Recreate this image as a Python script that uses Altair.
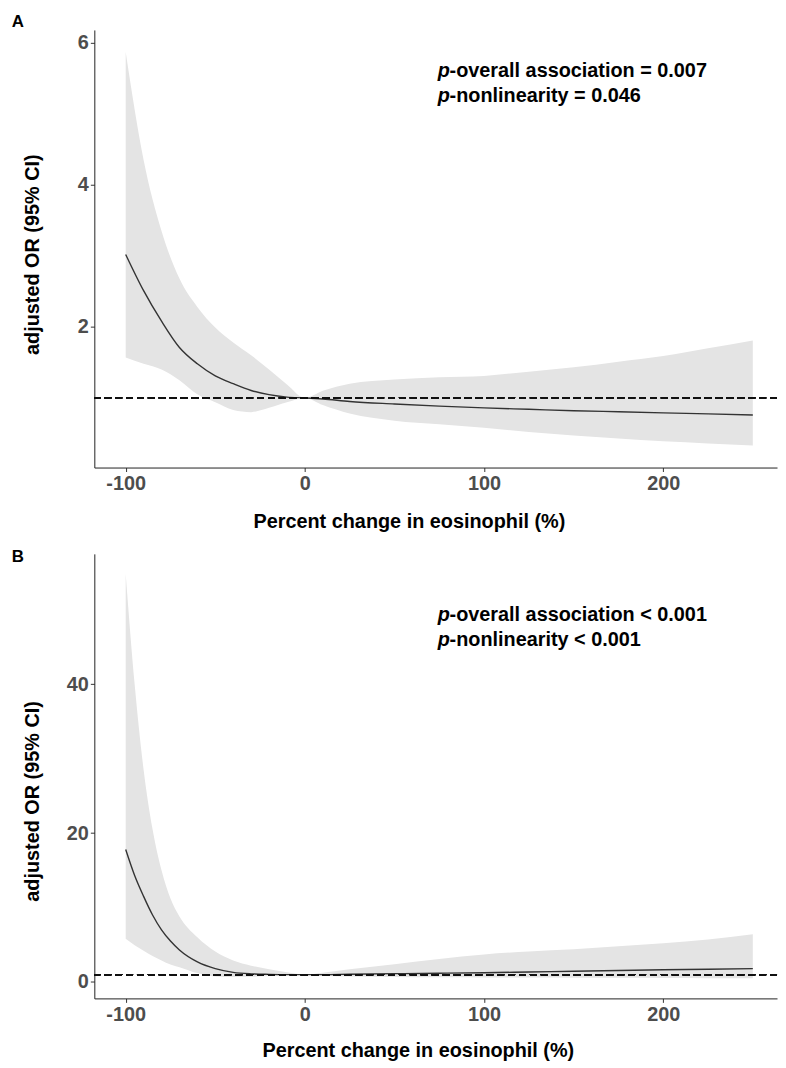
import altair as alt
import pandas as pd

# ---------------- Panel A data ----------------
x_a = [-100, -90, -80, -70, -60, -50, -40, -30, -20, -10, 0, 10, 25, 50, 75, 100, 125, 150, 175, 200, 225, 250]
or_a = [3.02, 2.51, 2.08, 1.71, 1.48, 1.31, 1.20, 1.105, 1.046, 1.012, 1.0, 0.985, 0.95, 0.915, 0.885, 0.86, 0.84, 0.82, 0.805, 0.79, 0.775, 0.76]
hi_a = [5.87, 4.35, 3.35, 2.68, 2.28, 1.99, 1.78, 1.60, 1.40, 1.19, 1.0, 1.10, 1.20, 1.26, 1.29, 1.31, 1.37, 1.43, 1.51, 1.59, 1.70, 1.81]
lo_a = [1.57, 1.48, 1.40, 1.25, 1.05, 0.94, 0.83, 0.80, 0.86, 0.94, 1.0, 0.90, 0.78, 0.68, 0.63, 0.58, 0.52, 0.47, 0.43, 0.39, 0.36, 0.33]

# ---------------- Panel B data ----------------
x_b = [-100, -95, -90, -85, -80, -75, -70, -60, -50, -40, -30, -20, -10, 0, 10, 25, 50, 75, 100, 125, 150, 175, 200, 225, 250]
or_b = [17.8, 14.3, 11.5, 9.0, 7.0, 5.5, 4.3, 2.7, 1.8, 1.3, 1.1, 1.03, 1.0, 1.0, 1.0, 1.05, 1.12, 1.18, 1.25, 1.35, 1.45, 1.55, 1.65, 1.72, 1.8]
hi_b = [54.8, 40.0, 28.5, 20.5, 15.0, 11.2, 8.8, 6.0, 4.1, 2.9, 2.2, 1.7, 1.3, 1.0, 1.25, 1.7, 2.4, 3.1, 3.7, 4.1, 4.4, 4.8, 5.2, 5.7, 6.4]
lo_b = [5.8, 4.95, 4.2, 3.5, 2.9, 2.35, 2.0, 1.2, 0.75, 0.68, 0.7, 0.8, 0.92, 1.0, 0.85, 0.75, 0.68, 0.64, 0.62, 0.6, 0.58, 0.56, 0.54, 0.52, 0.5]

x_ticks = [-100, 0, 100, 200]
y_ticks_a = [2, 4, 6]
y_ticks_b = [0, 20, 40]

ann_a = [["p", "-overall association = 0.007"], ["p", "-nonlinearity = 0.046"]]
ann_b = [["p", "-overall association < 0.001"], ["p", "-nonlinearity < 0.001"]]

X_TITLE = "Percent change in eosinophil (%)"
Y_TITLE = "adjusted OR (95% CI)"
FONT = "Liberation Sans"

W = 688


def panel(xs, ors, his, los, ydomain, yticks, height, label, label_y, anns, ann_y,
          ytitle_y, xtitle_x, xtitlepad):
    df = pd.DataFrame({"x": xs, "or": ors, "hi": his, "lo": los})
    base = alt.Chart(df)
    xenc = alt.X(
        "x:Q",
        title=X_TITLE,
        scale=alt.Scale(domain=[-117.5, 263.5], nice=False, zero=False),
        axis=alt.Axis(values=x_ticks, labelExpr="datum.value + ''",
                      titlePadding=xtitlepad, titleX=xtitle_x),
    )
    yscale = alt.Scale(domain=ydomain, nice=False, zero=False)
    yaxis = alt.Axis(values=yticks, labelExpr="datum.value + ''",
                     titleX=-62, titleY=ytitle_y, titleBaseline="middle", titleAlign="center")
    band = base.mark_area(color="#E4E4E4", interpolate="monotone").encode(
        x=xenc,
        y=alt.Y("lo:Q", title=Y_TITLE, scale=yscale, axis=yaxis),
        y2="hi:Q",
    )
    line = base.mark_line(color="#333333", strokeWidth=1.4, interpolate="monotone").encode(
        x=alt.X("x:Q", title=X_TITLE),
        y=alt.Y("or:Q", title=Y_TITLE),
    )
    ref = base.mark_rule(color="#111111", strokeWidth=1.3, strokeDash=[7, 4]).encode(
        y=alt.datum(1)
    )
    layers = [band, line, ref]
    lab = alt.Chart(pd.DataFrame({"t": [label]})).mark_text(
        font=FONT, fontSize=17, fontWeight="bold", color="black", align="center", baseline="middle"
    ).encode(x=alt.value(-77), y=alt.value(label_y), text="t:N")
    layers.append(lab)
    for (pp, rest), yy in zip(anns, ann_y):
        tp = alt.Chart(pd.DataFrame({"t": [pp]})).mark_text(
            font=FONT, fontSize=20, fontWeight="bold", fontStyle="italic", color="black",
            align="left", baseline="middle"
        ).encode(x=alt.value(346), y=alt.value(yy), text="t:N")
        tr = alt.Chart(pd.DataFrame({"t": [rest]})).mark_text(
            font=FONT, fontSize=20, fontWeight="bold", color="black",
            align="left", baseline="middle"
        ).encode(x=alt.value(358), y=alt.value(yy), text="t:N")
        layers += [tp, tr]
    return alt.layer(*layers).properties(width=W, height=height)


pa = panel(x_a, or_a, hi_a, lo_a, [0.02, 6.18], y_ticks_a, 441, "A", -8, ann_a, [41, 67],
           226, 317, 18)
pb = panel(x_b, or_b, hi_b, lo_b, [-2.2, 57.5], y_ticks_b, 448, "B", 3, ann_b, [62, 87],
           249, 326, 17)

chart = (
    alt.vconcat(pa, pb, spacing=17)
    .properties(padding={"left": 3, "top": 1, "right": 0, "bottom": 0})
    .configure_view(stroke=None)
    .configure_axis(
        grid=False,
        domainColor="#222222",
        domainWidth=1,
        tickColor="#333333",
        tickSize=4,
        labelPadding=2,
        labelFont=FONT,
        labelFontSize=20,
        labelFontWeight="bold",
        labelColor="#4D4D4D",
        titleFont=FONT,
        titleFontSize=20,
        titleFontWeight="bold",
        titleColor="black",
    )
)

chart.save("out.html", embed_options={"renderer": "svg", "actions": False})
